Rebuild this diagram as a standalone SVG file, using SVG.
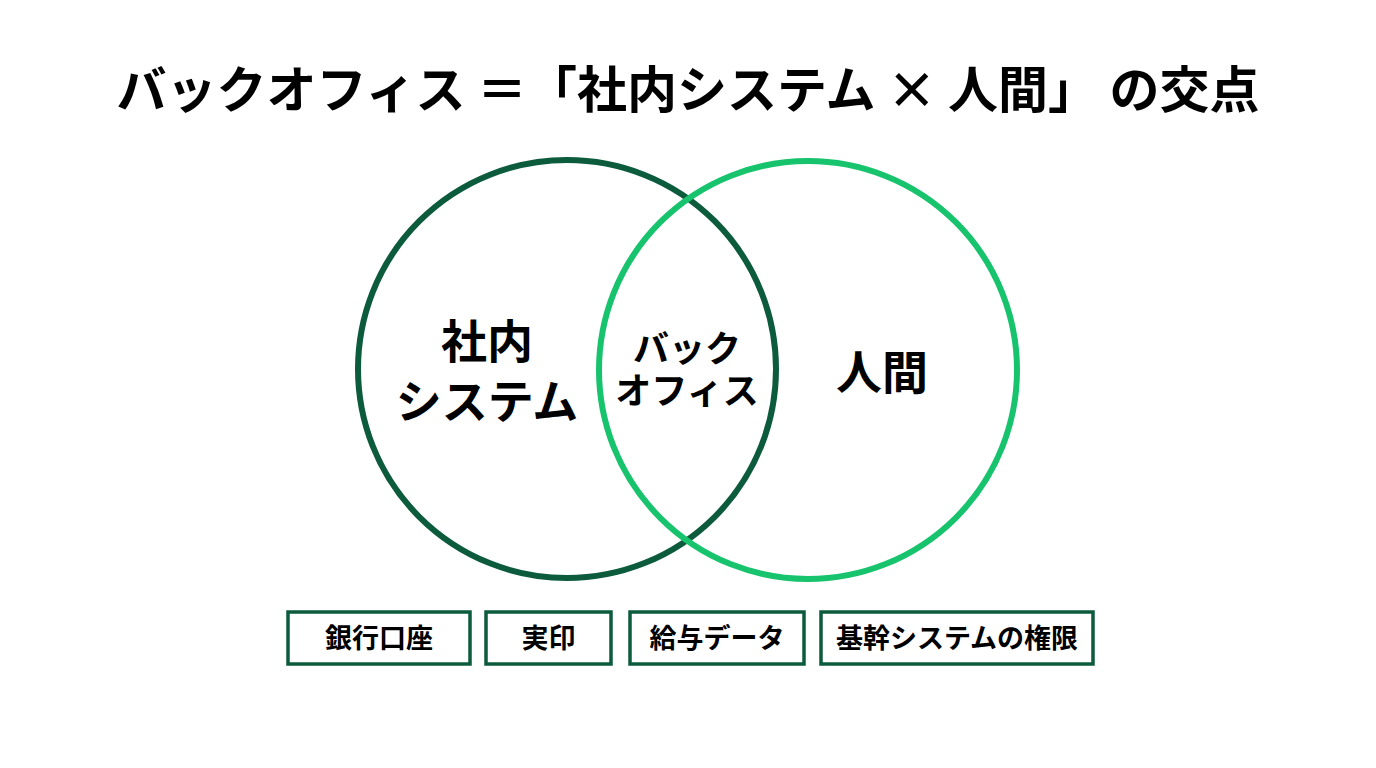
<svg xmlns="http://www.w3.org/2000/svg" width="1376" height="768" viewBox="0 0 1376 768">
<style>
.t{font-family:"Noto Sans CJK JP","Noto Sans CJK SC",sans-serif;font-weight:700;fill:#000;text-anchor:middle}
.box{fill:#fff;stroke:#0c5b3d;stroke-width:3.5}
</style>
<rect width="1376" height="768" fill="#fff"/>
<text class="t" x="688" y="108" font-size="50">バックオフィス ＝「社内システム × 人間」 の交点</text>
<g id="circles">
<circle id="system-circle" cx="567" cy="369" r="209" fill="none" stroke="#0c5b3d" stroke-width="6"/>
<circle id="human-circle" cx="808" cy="370" r="209" fill="none" stroke="#17c46d" stroke-width="6"/>
</g>
<g id="label-system">
<text class="t" x="487" y="358" font-size="46">社内</text>
<text class="t" x="487" y="418" font-size="46">システム</text>
</g>
<g id="label-backoffice">
<text class="t" x="687" y="362" font-size="36">バック</text>
<text class="t" x="687" y="404" font-size="36">オフィス</text>
</g>
<g id="label-human">
<text class="t" x="882" y="389" font-size="46">人間</text>
</g>
<g id="box1"><rect class="box" x="288" y="612" width="182" height="52"/><text class="t" x="379" y="648" font-size="27">銀行口座</text></g>
<g id="box2"><rect class="box" x="486" y="612" width="125" height="52"/><text class="t" x="548.5" y="648" font-size="27">実印</text></g>
<g id="box3"><rect class="box" x="630" y="612" width="174" height="52"/><text class="t" x="717" y="648" font-size="27">給与データ</text></g>
<g id="box4"><rect class="box" x="821" y="612" width="272" height="52"/><text class="t" x="957" y="648" font-size="27">基幹システムの権限</text></g>
<g id="connectors"></g>
</svg>
